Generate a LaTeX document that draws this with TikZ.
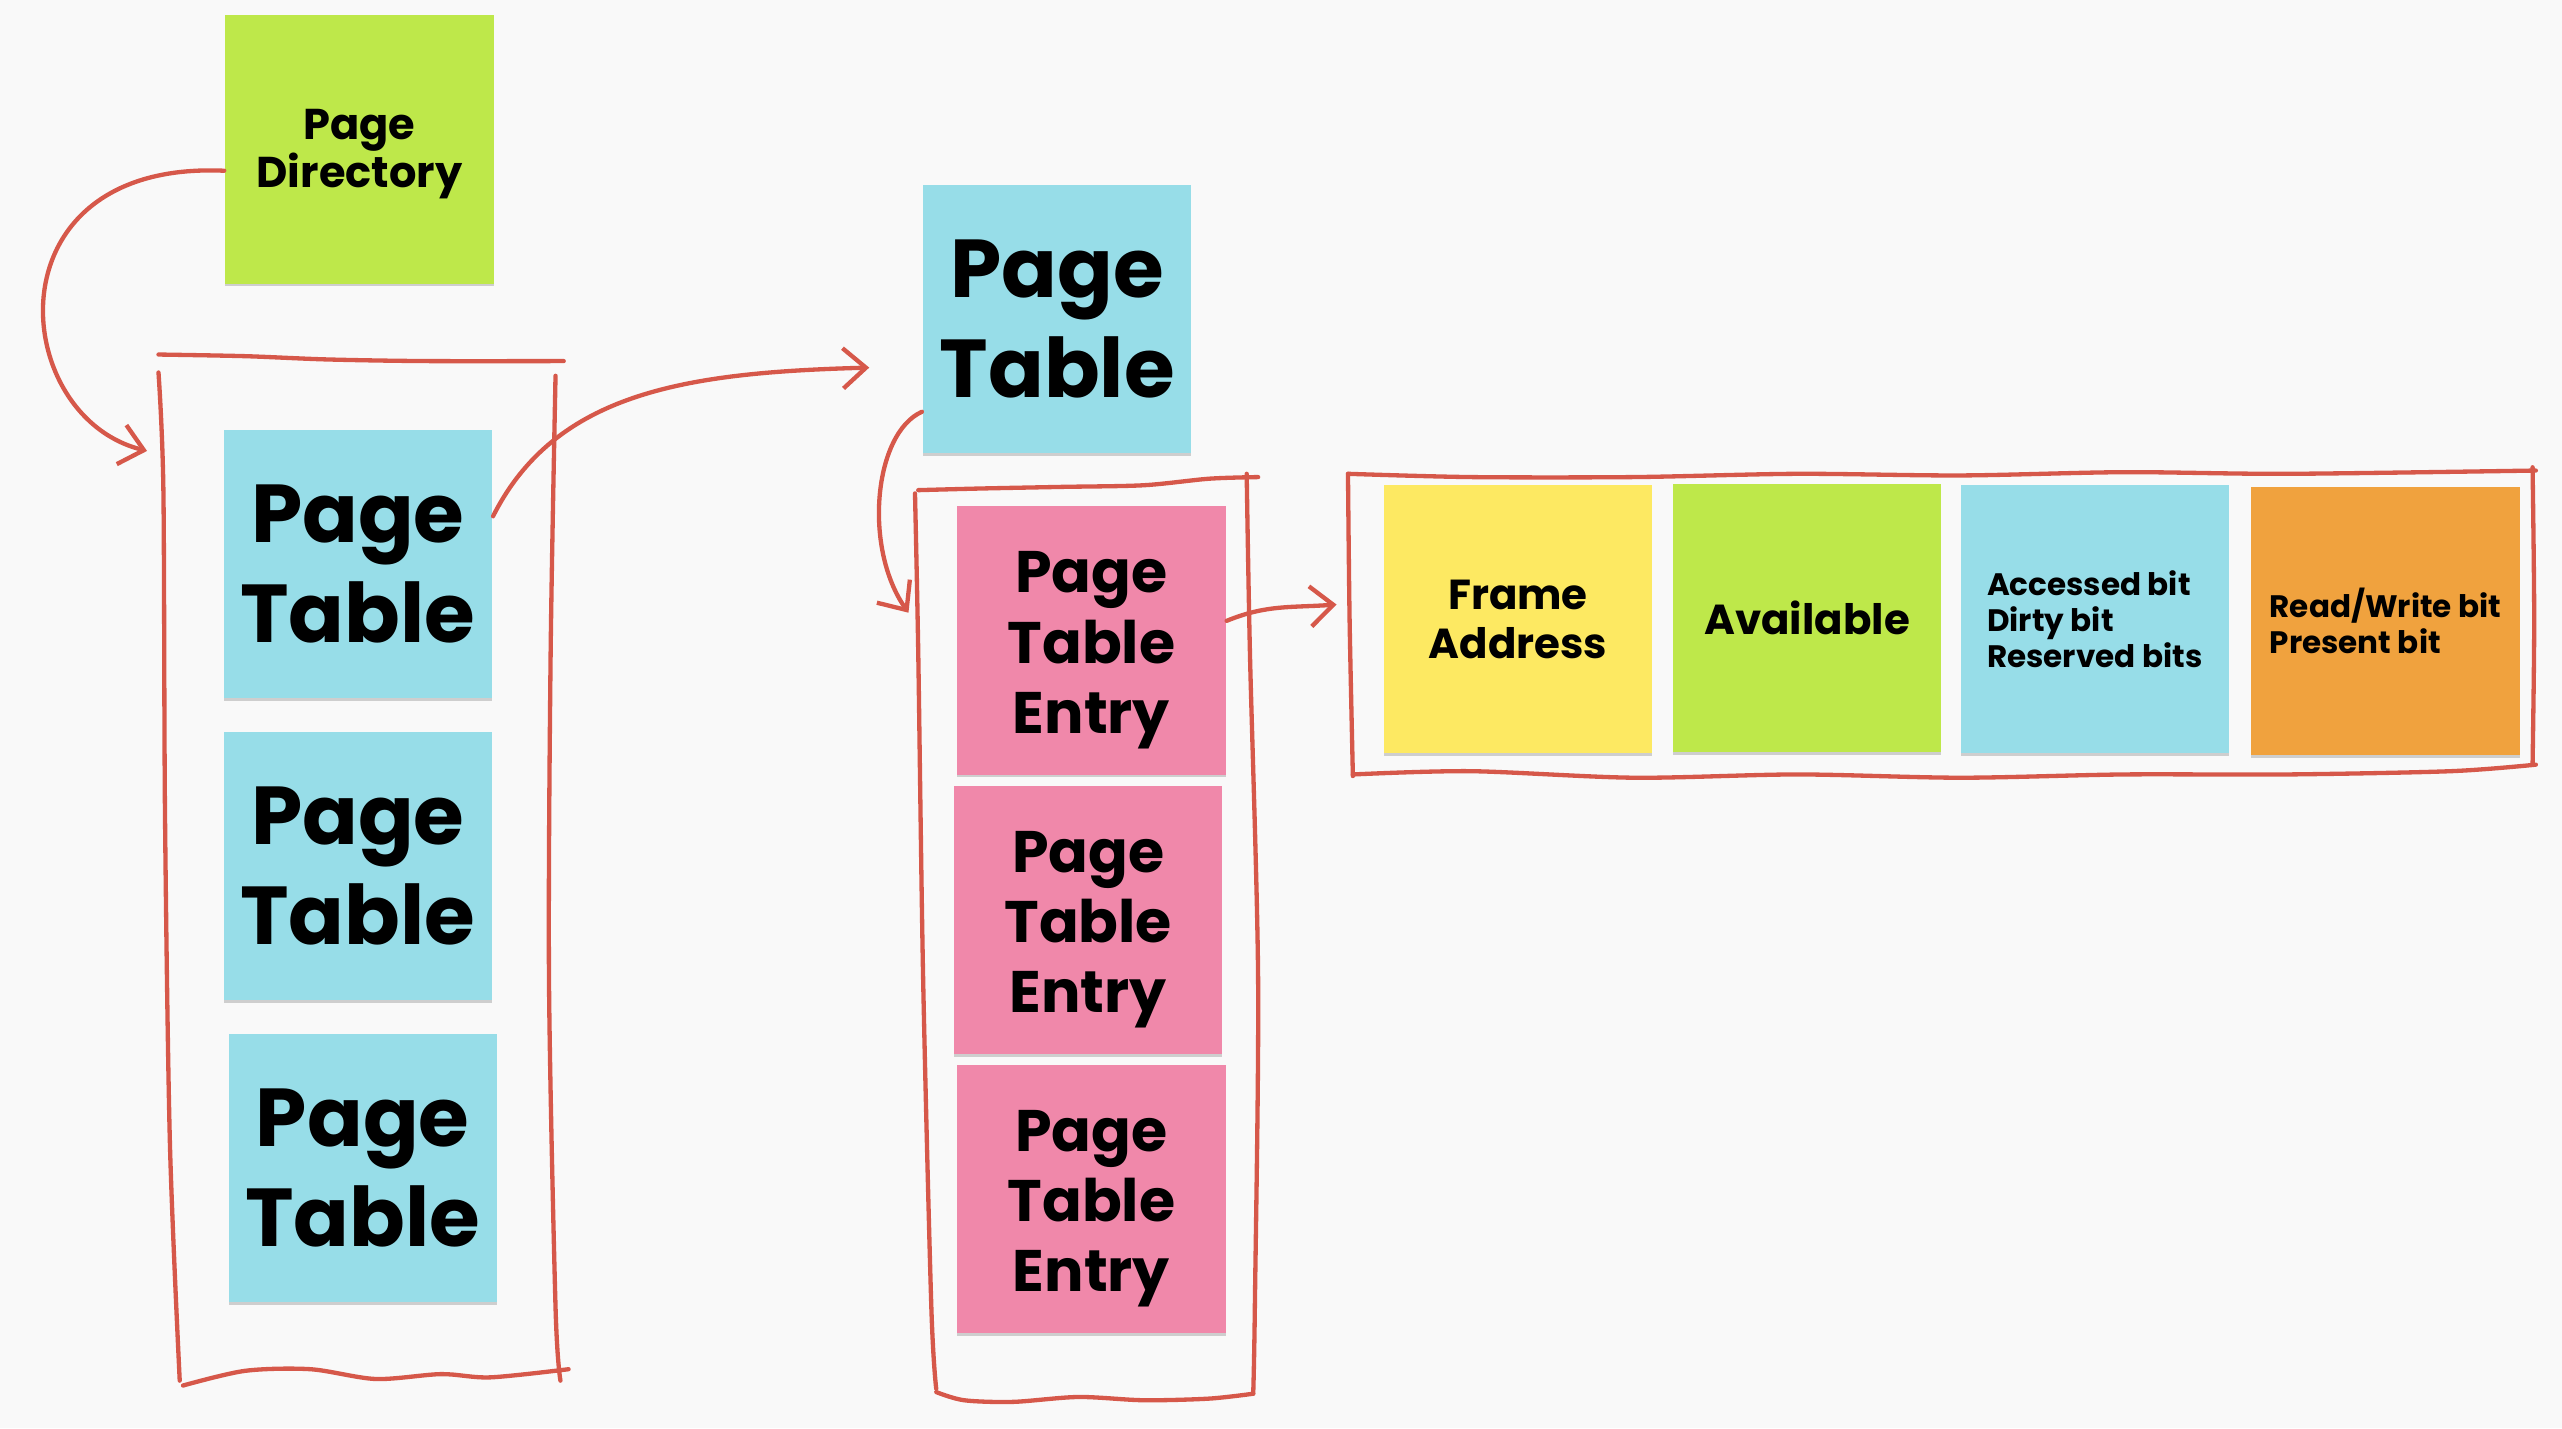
\documentclass[tikz,border=0pt]{standalone}
\usepackage{fontspec}
\setmainfont{Poppins}
\usetikzlibrary{arrows.meta,shadows}
\definecolor{bgc}{HTML}{F9F9F9}
\definecolor{cgreen}{HTML}{BEE84A}
\definecolor{cblue}{HTML}{97DDE8}
\definecolor{cpink}{HTML}{F088AA}
\definecolor{cyellow}{HTML}{FDE962}
\definecolor{corange}{HTML}{F0A23E}
\definecolor{cred}{HTML}{D6584A}
\tikzset{
  card/.style={rectangle, minimum width=1.64cm, minimum height=1.64cm, inner sep=0pt,
    drop shadow={shadow xshift=0pt, shadow yshift=-0.5pt, opacity=0.35, fill=black!50}},
  bigtxt/.style={align=center, text=black, font=\fontsize{14.3}{17.4}\selectfont\bfseries, inner sep=0pt},
  midtxt/.style={align=center, text=black, font=\fontsize{10.2}{12.2}\selectfont\bfseries, inner sep=0pt, yshift=-0.06cm},
  smalltxt/.style={align=center, text=black, font=\fontsize{7.3}{8.5}\selectfont\bfseries, inner sep=0pt},
  pdtxt/.style={align=center, text=black, font=\fontsize{7.5}{8.3}\selectfont\bfseries, inner sep=0pt, yshift=-0.03cm},
  tinytxt/.style={align=left, text=black, font=\fontsize{5.4}{6.3}\selectfont\bfseries, inner sep=0pt},
  hand/.style={draw=cred, line width=0.75pt, line cap=round, line join=round},
  arr/.style={hand, -{Straight Barb[length=4pt, width=7pt, line width=0.75pt]}},
}
\begin{document}
\begin{tikzpicture}[x=0.01cm, y=-0.01cm]
\fill[bgc] (0,0) rectangle (1568,874);
\useasboundingbox (0,0) rectangle (1568,874);

% cards
\node[card, fill=cgreen, label={[pdtxt]center:Page\\Directory}] (pd) at (220,91.5) {};
\node[card, fill=cblue, label={[bigtxt]center:Page\\Table}] (pt1) at (219,345) {};
\node[card, fill=cblue, label={[bigtxt]center:Page\\Table}] (pt2) at (219,530) {};
\node[card, fill=cblue, label={[bigtxt]center:Page\\Table}] (pt3) at (222,715) {};
\node[card, fill=cblue, label={[bigtxt]center:Page\\Table}] (ptr) at (647,195) {};
\node[card, fill=cpink, label={[midtxt]center:Page\\Table\\Entry}] (pte1) at (668,392) {};
\node[card, fill=cpink, label={[midtxt]center:Page\\Table\\Entry}] (pte2) at (666,563) {};
\node[card, fill=cpink, label={[midtxt]center:Page\\Table\\Entry}] (pte3) at (668,734) {};
\node[card, fill=cyellow, label={[smalltxt]center:Frame\\Address}] (fa) at (929,379) {};
\node[card, fill=cgreen, label={[smalltxt]center:Available}] (av) at (1106,378) {};
\node[card, fill=cblue, label={[tinytxt]center:Accessed bit\\Dirty bit\\Reserved bits}] (ac) at (1282,379) {};
\node[card, fill=corange, label={[tinytxt]center:Read/Write bit\\Present bit}] (rw) at (1460,380) {};

% left bracket
\draw[hand] plot[smooth] coordinates {(97,217) (150,218) (200,220) (260,221) (345,221)};
\draw[hand] plot[smooth] coordinates {(97,228) (100,300) (101,500) (104,700) (110,845)};
\draw[hand] plot[smooth] coordinates {(340,230) (337,400) (336,600) (340,800) (343,845)};
\draw[hand] plot[smooth] coordinates {(112,848) (150,839) (190,838) (230,844) (270,841) (300,843) (348,838)};

% PTE bracket
\draw[hand] plot[smooth] coordinates {(562,300) (600,299) (650,298) (700,297) (740,293) (770,292)};
\draw[hand] plot[smooth] coordinates {(560,302) (562,400) (565,600) (570,800) (573,850)};
\draw[hand] plot[smooth] coordinates {(763,290) (765,400) (770,600) (768,800) (767,853)};
\draw[hand] plot[smooth] coordinates {(573,852) (590,857) (620,858) (660,855) (700,857) (740,856) (767,853)};

% entry bracket
\draw[hand] plot[smooth] coordinates {(825,290) (900,292) (1000,292) (1100,290) (1200,291) (1300,289) (1400,290) (1552,288)};
\draw[hand] plot[smooth] coordinates {(825,290) (826,380) (828,475)};
\draw[hand] plot[smooth] coordinates {(828,474) (900,472) (1000,476) (1100,474) (1200,476) (1300,474) (1400,474) (1500,472) (1552,468)};
\draw[hand] plot[smooth] coordinates {(1550,286) (1551,380) (1550,468)};

% arrow ends
\coordinate (e1) at (90,276);
\coordinate (e2) at (532,225);
\coordinate (e3) at (556,375);
\coordinate (e4) at (818,370);

\draw[arr] ([yshift=-0.13cm]pd.west) .. controls (-8,98) and (5,255) .. (e1);
\draw[arr] ([yshift=0.29cm]pt1.east) .. controls (340,240) and (420,228) .. (e2);
\draw[arr] ([yshift=-0.57cm]ptr.west) .. controls (535,265) and (528,335) .. (e3);
\draw[arr] ([yshift=0.12cm]pte1.east) .. controls (775,370) and (790,372) .. (e4);
\end{tikzpicture}
\end{document}
